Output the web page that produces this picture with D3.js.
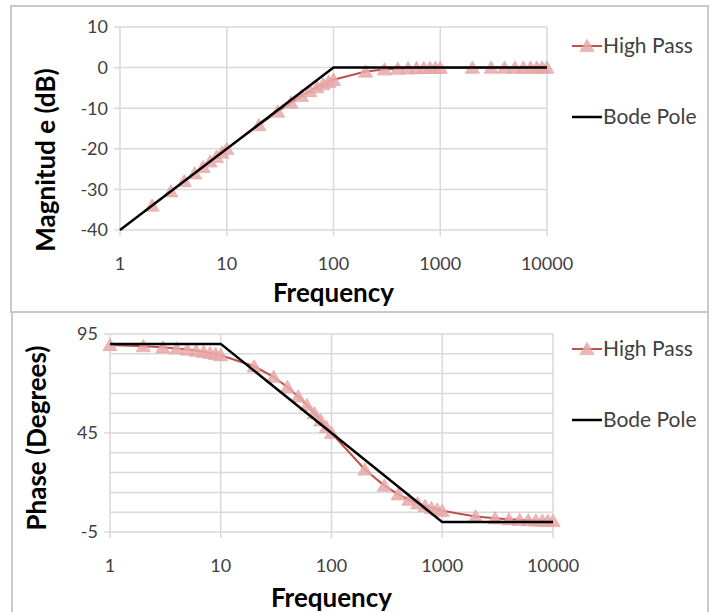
<!DOCTYPE html>
<html><head><meta charset="utf-8">
<script src="https://cdn.jsdelivr.net/npm/d3@7"></script>
<style>
html,body{margin:0;padding:0;background:#fff;}
svg{display:block;font-family:Lato,"Open Sans",sans-serif;}
</style></head><body>
<svg id="c" width="717" height="612"></svg>
<script>
// ---- data ----
const magFreq = [2,3,4,5,6,7,8,9,10,20,30,40,50,60,70,80,90,100,200,300,400,500,600,700,800,900,1000,2000,3000,4000,5000,6000,7000,8000,9000,10000];
const magHighPass = [-33.98,-30.46,-27.97,-26.03,-24.45,-23.12,-21.97,-20.95,-20.04,-14.15,-10.83,-8.60,-6.99,-5.77,-4.83,-4.09,-3.49,-3.01,-0.97,-0.46,-0.26,-0.17,-0.12,-0.09,-0.07,-0.05,-0.04,-0.01,-0.005,-0.003,-0.002,-0.001,-0.001,-0.001,0,0];
const magBodeFreq = [1,100,10000];
const magBode = [-40,0,0];

const phaseFreq = [1,2,3,4,5,6,7,8,9,10,20,30,40,50,60,70,80,90,100,200,300,400,500,600,700,800,900,1000,2000,3000,4000,5000,6000,7000,8000,9000,10000];
const phaseHighPass = [89.43,88.85,88.28,87.71,87.14,86.57,86.00,85.43,84.86,84.29,78.69,73.30,68.20,63.43,59.04,55.01,51.34,48.01,45.00,26.57,18.43,14.04,11.31,9.46,8.13,7.13,6.34,5.71,2.86,1.91,1.43,1.15,0.95,0.82,0.72,0.64,0.57];
const phaseBodeFreq = [1,10,1000,10000];
const phaseBode = [90,90,0,0];

const xTicks = [1,10,100,1000,10000];
const magTicks = [10,0,-10,-20,-30,-40];
const phaseTickLabels = [95,45,-5];
const phaseGrid = [95,85,75,65,55,45,35,25,15,5,-5];
const seriesNames = ["High Pass","Bode Pole"];

const svg = d3.select("#c");
const RED = "#c0504d", PINK = "#e8a9a8", GRID = "#d9d9d9", FRAME = "#c9c9c9";

// panel frames
svg.append("rect").attr("x",11).attr("y",6).attr("width",697).attr("height",306)
  .attr("fill","none").attr("stroke",FRAME).attr("stroke-width",2);
svg.append("rect").attr("x",12).attr("y",312).attr("width",696).attr("height",310)
  .attr("fill","none").attr("stroke",FRAME).attr("stroke-width",2);

function panel(o){
  const g = svg.append("g");
  const x = d3.scaleLog().domain([1,10000]).range([o.x0,o.x1]);
  const y = d3.scaleLinear().domain(o.ydom).range([o.y1,o.y0]);
  // horizontal grid
  g.selectAll(".hg").data(o.grid).join("line")
    .attr("x1",o.x0).attr("x2",o.x1).attr("y1",d=>y(d)).attr("y2",d=>y(d))
    .attr("stroke",GRID).attr("stroke-width",1.5);
  // vertical grid + ticks
  g.selectAll(".vg").data(xTicks).join("line")
    .attr("x1",d=>x(d)).attr("x2",d=>x(d)).attr("y1",o.y0).attr("y2",o.y1+6)
    .attr("stroke",GRID).attr("stroke-width",1.5);
  // y ticks
  g.selectAll(".yt").data(o.yticks).join("line")
    .attr("x1",o.x0-6).attr("x2",o.x0).attr("y1",d=>y(d)).attr("y2",d=>y(d))
    .attr("stroke",GRID).attr("stroke-width",1.5);
  // x tick labels
  g.selectAll(".xl").data(xTicks).join("text")
    .attr("x",d=>x(d)).attr("y",o.xlabY).attr("text-anchor","middle")
    .attr("font-size",18).attr("fill","#404040").text(d=>d);
  // y tick labels
  g.selectAll(".yl").data(o.yticks).join("text")
    .attr("x",o.x0-12).attr("y",d=>y(d)).attr("dy","0.35em").attr("text-anchor","end")
    .attr("font-size",18).attr("fill","#404040").text(d=>d);
  // axis titles
  g.append("text").attr("x",(o.x0+o.x1)/2).attr("y",o.xtitleY).attr("text-anchor","middle")
    .attr("font-size",26).attr("font-weight","bold").attr("fill","#000").text("Frequency");
  g.append("text").attr("transform",`translate(${o.ytitleX},${o.ytitleCY}) rotate(-90)`)
    .attr("text-anchor","middle").attr("dy","0.35em")
    .attr("font-size",26).attr("font-weight","bold").attr("fill","#000").text(o.ytitle);
  // high pass series
  const hp = o.hf.map((f,i)=>[f,o.hv[i]]);
  const line = d3.line().x(d=>x(d[0])).y(d=>y(d[1]));
  g.append("path").attr("d",line(hp)).attr("fill","none").attr("stroke",RED).attr("stroke-width",2);
  const tri = d3.symbol().type(d3.symbolTriangle).size(88);
  g.selectAll(".mk").data(hp).join("path")
    .attr("transform",d=>`translate(${x(d[0])},${y(d[1])+1.5})`)
    .attr("d",tri()).attr("fill",PINK).attr("fill-opacity",0.85).attr("stroke","#e3a0a0").attr("stroke-width",0.6);
  // bode
  const bp = o.bf.map((f,i)=>[f,o.bv[i]]);
  g.append("path").attr("d",line(bp)).attr("fill","none").attr("stroke","#000").attr("stroke-width",2.5);
  // legend
  const lx = 572, lw = 30;
  g.append("line").attr("x1",lx).attr("x2",lx+lw).attr("y1",o.leg1).attr("y2",o.leg1)
    .attr("stroke",RED).attr("stroke-width",2);
  g.append("path").attr("transform",`translate(${lx+lw/2},${o.leg1+1.5})`).attr("d",tri())
    .attr("fill",PINK).attr("fill-opacity",0.85).attr("stroke","#e3a0a0").attr("stroke-width",0.6);
  g.append("text").attr("x",lx+lw+1).attr("y",o.leg1).attr("dy","0.35em")
    .attr("font-size",21).attr("fill","#404040").text(seriesNames[0]);
  g.append("line").attr("x1",lx).attr("x2",lx+lw).attr("y1",o.leg2).attr("y2",o.leg2)
    .attr("stroke","#000").attr("stroke-width",2.5);
  g.append("text").attr("x",lx+lw+1).attr("y",o.leg2).attr("dy","0.35em")
    .attr("font-size",21).attr("fill","#404040").text(seriesNames[1]);
}

panel({x0:120,x1:547,y0:27,y1:230,ydom:[-40,10],grid:magTicks,yticks:magTicks,
  xlabY:270,xtitleY:302,ytitleX:46,ytitleCY:160,ytitle:"Magnitud e (dB)",
  hf:magFreq,hv:magHighPass,bf:magBodeFreq,bv:magBode,leg1:46,leg2:117});

panel({x0:110,x1:553,y0:334,y1:532,ydom:[-5,95],grid:phaseGrid,yticks:phaseTickLabels,
  xlabY:572,xtitleY:607,ytitleX:37,ytitleCY:438,ytitle:"Phase (Degrees)",
  hf:phaseFreq,hv:phaseHighPass,bf:phaseBodeFreq,bv:phaseBode,leg1:349,leg2:420});
</script>
</body></html>
